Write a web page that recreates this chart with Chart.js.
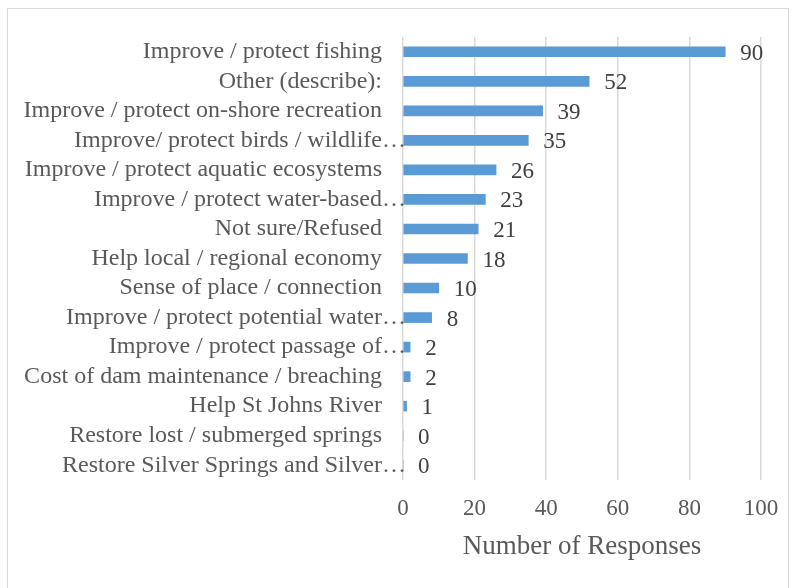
<!DOCTYPE html>
<html>
<head>
<meta charset="utf-8">
<script src="https://cdn.jsdelivr.net/npm/chart.js@4"></script>
<style>
  html, body { margin: 0; padding: 0; background: #fff; }
  #wrap { position: relative; width: 797px; height: 588px; }
  #frame { position: absolute; left: 7px; top: 8px; width: 782px; height: 582px; border: 1px solid #d9d9d9; box-sizing: border-box; }
  canvas { position: absolute; left: 0; top: 0; }
</style>
</head>
<body>
<div id="wrap">
  <div id="frame"></div>
  <canvas id="myChart" width="797" height="588"></canvas>
</div>
<script>
// data
const categories = [
  "Improve / protect fishing",
  "Other (describe):",
  "Improve / protect on-shore recreation",
  "Improve/ protect birds / wildlife…",
  "Improve / protect aquatic ecosystems",
  "Improve / protect water-based…",
  "Not sure/Refused",
  "Help local / regional economy",
  "Sense of place / connection",
  "Improve / protect potential water…",
  "Improve / protect passage of…",
  "Cost of dam maintenance / breaching",
  "Help St Johns River",
  "Restore lost / submerged springs",
  "Restore Silver Springs and Silver…"
];
const responses = [90, 52, 39, 35, 26, 23, 21, 18, 10, 8, 2, 2, 1, 0, 0];
const xTicks = [0, 20, 40, 60, 80, 100];

const serif = '"Liberation Serif", "Times New Roman", serif';

// category names + numbers after each bar
// (truncated names hang their "…" past the right edge, like Excel does)
const valueLabels = {
  id: "valueLabels",
  afterDatasetsDraw(chart) {
    const c = chart.ctx;
    const meta = chart.getDatasetMeta(0);
    const yScale = chart.scales.y;
    c.save();
    c.textBaseline = "middle";

    c.font = "24px " + serif;
    c.fillStyle = "#595959";
    const right = chart.chartArea.left - 21;
    categories.forEach((name, i) => {
      const y = yScale.getPixelForValue(i);
      if (name.endsWith("…")) {
        const base = name.slice(0, -1);
        c.textAlign = "right";
        c.fillText(base, right, y);
        c.textAlign = "left";
        c.fillText("…", right, y);
      } else {
        c.textAlign = "right";
        c.fillText(name, right, y);
      }
    });

    c.font = "23px " + serif;
    c.fillStyle = "#404040";
    c.textAlign = "left";
    meta.data.forEach((bar, i) => {
      c.fillText(String(responses[i]), bar.x + 15, bar.y + 2);
    });
    c.restore();
  }
};

const ctx = document.getElementById("myChart");

const chart = new Chart(ctx, {
  type: "bar",
  data: {
    labels: categories,
    datasets: [
      {
        label: "Number of Responses",
        data: responses,
        backgroundColor: "#5b9bd5",
        barThickness: 10,
      },
    ],
  },
  options: {
    indexAxis: "y",
    responsive: false,
    animation: false,
    layout: { padding: { top: 37, right: 36, bottom: 0, left: 0 } },
    plugins: {
      legend: { display: false },
      tooltip: { enabled: false },
    },
    scales: {
      x: {
        min: 0,
        max: 100,
        afterBuildTicks: (s) => { s.ticks = xTicks.map((v) => ({ value: v })); },
        afterFit: (s) => { s.height = 108; },
        grid: { color: "#d9d9d9", lineWidth: 1.5, drawTicks: false },
        border: { display: false },
        ticks: {
          padding: 15,
          color: "#595959",
          font: { family: serif, size: 23 },
        },
        title: {
          display: true,
          text: "Number of Responses",
          color: "#595959",
          font: { family: serif, size: 27 },
          padding: { top: 0, bottom: 25 },
        },
      },
      y: {
        afterFit: (s) => { s.width = 403; },
        grid: { display: false, drawTicks: false },
        border: { display: false },
        ticks: { display: false },
      },
    },
  },
  plugins: [valueLabels],
});
</script>
</body>
</html>
